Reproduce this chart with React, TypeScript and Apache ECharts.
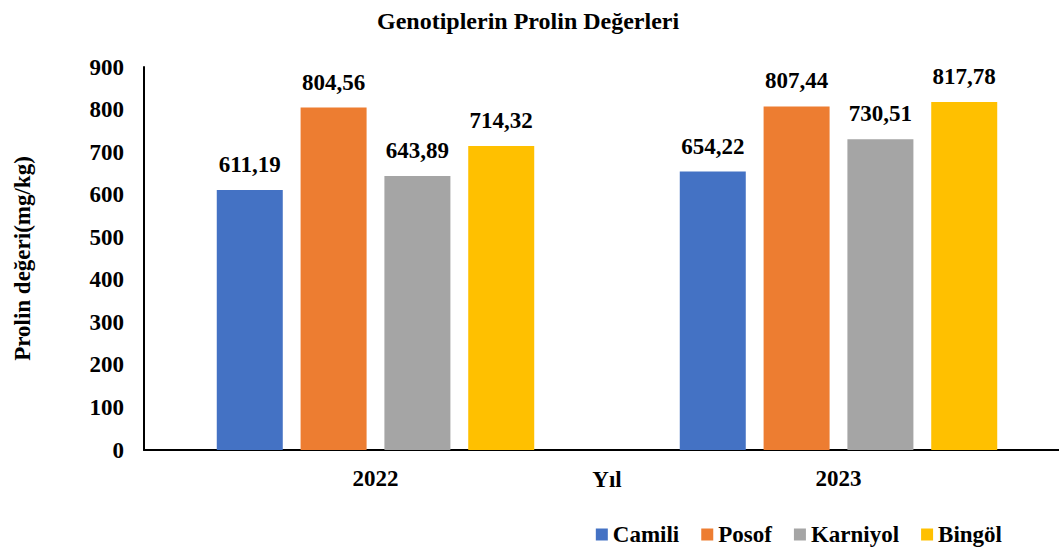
import React, { useEffect, useRef } from "react";
import * as echarts from "echarts";

const years = ["2022", "2023"];
const genotypes = ["Camili", "Posof", "Karniyol", "Bingöl"];
const camili = [611.19, 654.22];
const posof = [804.56, 807.44];
const karniyol = [643.89, 730.51];
const bingol = [714.32, 817.78];
const colors = ["#4472C4", "#ED7D31", "#A5A5A5", "#FFC000"];
const yTicks = { min: 0, max: 900, interval: 100 };

const FONT = "Liberation Serif";
const FS = 23;

export default function App() {
  const ref = useRef<HTMLDivElement>(null);
  useEffect(() => {
    document.body.style.margin = "0";
    document.body.style.overflow = "hidden";
    const chart = echarts.init(ref.current!, null, { renderer: "svg" });
    const seriesData = [camili, posof, karniyol, bingol];
    chart.setOption({
      animation: false,
      backgroundColor: "#ffffff",
      textStyle: { fontFamily: FONT, color: "#000", fontWeight: "bold" },
      title: {
        text: "Genotiplerin Prolin Değerleri",
        left: 372,
        top: 4,
        textStyle: { fontFamily: FONT, fontSize: 24, fontWeight: "bold", color: "#000" },
      },
      legend: {
        data: genotypes,
        right: 63,
        top: 518,
        itemWidth: 12,
        itemHeight: 12,
        itemGap: 22,
        icon: "rect",
        textStyle: { fontFamily: FONT, fontSize: FS, fontWeight: "bold", color: "#000" },
      },
      grid: { left: 144, top: 67, bottom: 97, right: 0, containLabel: false },
      xAxis: {
        type: "category",
        data: years,
        name: "Yıl",
        nameLocation: "middle",
        nameGap: 18,
        nameMoveOverlap: false,
        nameTextStyle: { fontFamily: FONT, fontSize: FS, fontWeight: "bold", color: "#000" },
        axisLine: { lineStyle: { color: "#000", width: 2 } },
        axisTick: { show: false },
        axisLabel: { fontFamily: FONT, fontSize: FS, fontWeight: "bold", color: "#000", margin: 17 },
      },
      yAxis: {
        type: "value",
        min: yTicks.min,
        max: yTicks.max,
        interval: yTicks.interval,
        name: "Prolin değeri(mg/kg)",
        nameLocation: "middle",
        nameGap: 110,
        nameMoveOverlap: false,
        nameRotate: 90,
        nameTextStyle: { fontFamily: FONT, fontSize: FS, fontWeight: "bold", color: "#000" },
        axisLine: { show: true, lineStyle: { color: "#000", width: 2 } },
        axisTick: { show: false },
        splitLine: { show: false },
        axisLabel: { fontFamily: FONT, fontSize: FS, fontWeight: "bold", color: "#000", margin: 20 },
      },
      series: genotypes.map((name, i) => ({
        name,
        type: "bar",
        data: seriesData[i],
        barWidth: 66,
        barGap: "27%",
        itemStyle: { color: colors[i] },
        label: {
          show: true,
          position: "top",
          distance: 14,
          fontFamily: FONT,
          fontSize: FS,
          fontWeight: "bold",
          color: "#000",
          formatter: (p: any) => Number(p.value).toFixed(2).replace(".", ","),
        },
      })),
    });
    return () => chart.dispose();
  }, []);
  return (
    <div style={{ position: "absolute", left: 0, top: 0, width: 1059, height: 547, overflow: "hidden" }}>
      <div ref={ref} style={{ width: 1070, height: 547 }} />
    </div>
  );
}
